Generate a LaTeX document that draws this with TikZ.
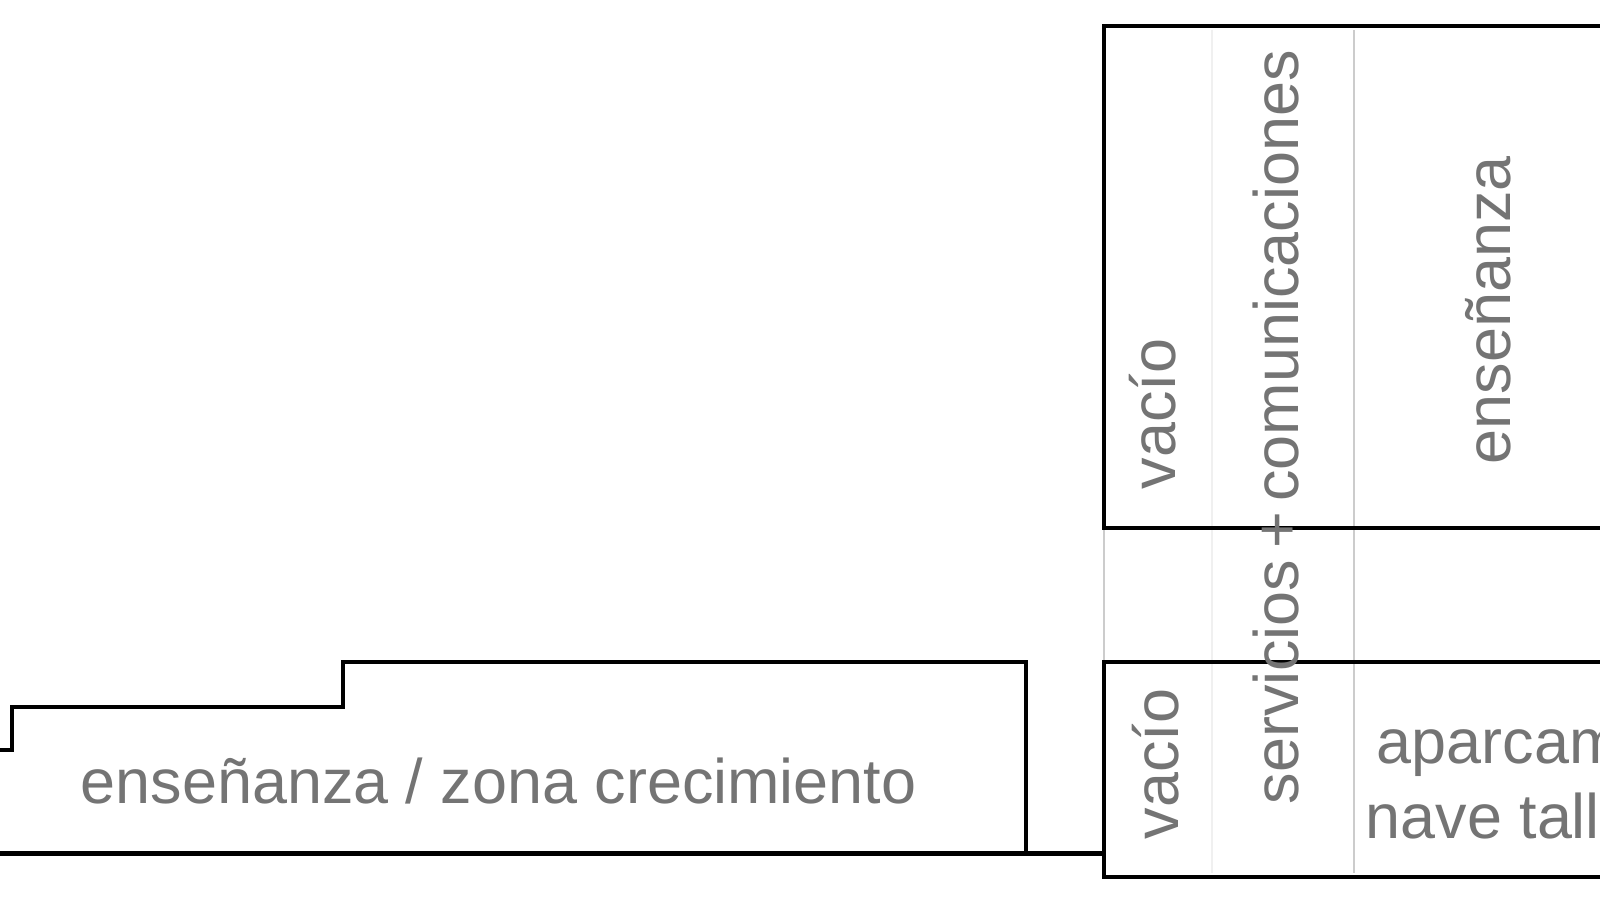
\documentclass[tikz,border=0pt]{standalone}
\usepackage{fontspec}
\setmainfont{Liberation Sans}
\definecolor{txtgray}{HTML}{747474}
\definecolor{faint}{HTML}{CCCCCC}
\definecolor{veryfaint}{HTML}{F0F0F0}

\begin{document}
\begin{tikzpicture}[x=0.1mm, y=-0.1mm, every node/.style={inner sep=0, text=txtgray, font=\fontsize{17.9}{21}\selectfont}]
    \clip (0, 0) rectangle (1600, 900);
    \fill [white] (0, 0) rectangle (1600, 900);

    \draw [veryfaint, line width=0.15mm] (1212, 30) -- (1212, 873);
    \draw [faint, line width=0.12mm] (1354, 30) -- (1354, 873);
    \draw [faint, line width=0.12mm] (1104, 528) -- (1104, 662);

    \draw [line width=0.33mm] (0, 750) -- (12, 750) -- (12, 707) -- (343, 707) -- (343, 662) -- (1026, 662) -- (1026, 853);
    \draw [line width=0.5mm] (0, 853) -- (1104, 853);
    \draw [line width=0.33mm] (1600, 26) -- (1104, 26) -- (1104, 528) -- (1600, 528);
    \draw [line width=0.33mm] (1600, 662) -- (1104, 662) -- (1104, 877) -- (1600, 877);

    \node [anchor=base west] (ens1) at (80, 803) {enseñanza / zona crecimiento};
    \node [anchor=base west, rotate=90] (vac1) at (1175, 490) {vacío};
    \node [anchor=base west, rotate=90] (vac2) at (1178, 840) {vacío};
    \node [anchor=base west, rotate=90] (serv) at (1298, 805) {servicios\hspace{0.17em}+\hspace{0.17em}comunicaciones};
    \node [anchor=base west, rotate=90] (ens2) at (1510, 465) {enseñanza};
    \node [anchor=base west] (park1) at (1376, 763) {aparcamiento};
    \node [anchor=base west] (park2) at (1365, 838) {nave taller};
\end{tikzpicture}
\end{document}
